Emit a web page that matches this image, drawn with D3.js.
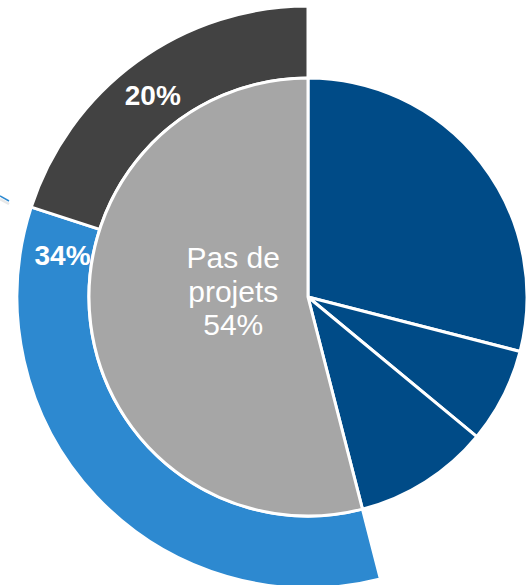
<!DOCTYPE html>
<html>
<head>
<meta charset="utf-8">
<script src="https://cdn.jsdelivr.net/npm/d3@7"></script>
<style>
  html, body { margin: 0; padding: 0; background: #ffffff; }
  svg { display: block; }
  text { font-family: "Liberation Sans", Arial, sans-serif; }
</style>
</head>
<body>
<svg id="chart" width="530" height="585"></svg>
<script>
// Inner pie: categories and values (%)
const innerCategories = ["Projet A", "Projet B", "Projet C", "Pas de projets"];
const innerValues = [29, 7, 10, 54];
const innerColors = ["#004b87", "#004b87", "#004b87", "#a6a6a6"];

// Outer ring: breakdown of "Pas de projets"
const outerCategories = ["Groupe bleu", "Groupe gris"];
const outerValues = [34, 20];
const outerColors = ["#2d89d0", "#424242"];
const outerLabels = ["34%", "20%"];

const W = 530, H = 585;
const cx = 308, cy = 297;
const rInner = 219, rOuter = 291;

const svg = d3.select("#chart");
const g = svg.append("g").attr("transform", `translate(${cx},${cy})`);

const innerPie = d3.pie().sort(null).value(d => d)
  .startAngle(0).endAngle(2 * Math.PI);
const innerArcs = innerPie(innerValues);

// outer ring spans the angle of "Pas de projets"
const greyArc = innerArcs[3];
const outerPie = d3.pie().sort(null).value(d => d)
  .startAngle(greyArc.startAngle).endAngle(greyArc.endAngle);
const outerArcs = outerPie(outerValues);

const arcInner = d3.arc().innerRadius(0).outerRadius(rInner);
const arcOuter = d3.arc().innerRadius(rInner).outerRadius(rOuter);

// leader line stub at left edge
svg.append("line")
  .attr("x1", 0).attr("y1", 197).attr("x2", 9).attr("y2", 202)
  .attr("stroke", "#d9d9d9").attr("stroke-width", 2.5).attr("opacity", 0.6)
  .attr("transform", "translate(0,2)");
svg.append("line")
  .attr("x1", 0).attr("y1", 196).attr("x2", 9).attr("y2", 201)
  .attr("stroke", "#2d89d0").attr("stroke-width", 1.5);

// outer ring
g.selectAll("path.outer").data(outerArcs).join("path")
  .attr("class", "outer")
  .attr("d", arcOuter)
  .attr("fill", (d, i) => outerColors[i])
  .attr("stroke", "#ffffff").attr("stroke-width", 3);

// outer labels (angle in degrees clockwise from top, radius)
const outerLabelAngles = [279.7, 322.5];
const outerLabelRadius = [249, 255];
g.selectAll("text.outer").data(outerArcs).join("text")
  .attr("class", "outer")
  .attr("x", (d, i) => outerLabelRadius[i] * Math.sin(outerLabelAngles[i] * Math.PI / 180))
  .attr("y", (d, i) => -outerLabelRadius[i] * Math.cos(outerLabelAngles[i] * Math.PI / 180))
  .attr("dy", "0.36em")
  .attr("text-anchor", "middle")
  .attr("fill", "#ffffff")
  .attr("font-weight", "bold")
  .attr("font-size", 28)
  .text((d, i) => outerLabels[i]);

// inner pie
g.selectAll("path.inner").data(innerArcs).join("path")
  .attr("class", "inner")
  .attr("d", arcInner)
  .attr("fill", (d, i) => innerColors[i])
  .attr("stroke", "#ffffff").attr("stroke-width", 3)
  .attr("stroke-linejoin", "round");

// inner label for "Pas de projets"
const labAng = 274.6 * Math.PI / 180, labR = 75;
const lx = labR * Math.sin(labAng), ly = -labR * Math.cos(labAng);
const lines = ["Pas de", "projets", innerValues[3] + "%"];
const t = g.append("text")
  .attr("text-anchor", "middle")
  .attr("fill", "#ffffff")
  .attr("font-size", 30);
lines.forEach((s, i) => {
  t.append("tspan")
    .attr("x", lx)
    .attr("y", ly + (i - 1) * 33.5)
    .attr("dy", "0.36em")
    .text(s);
});
</script>
</body>
</html>
